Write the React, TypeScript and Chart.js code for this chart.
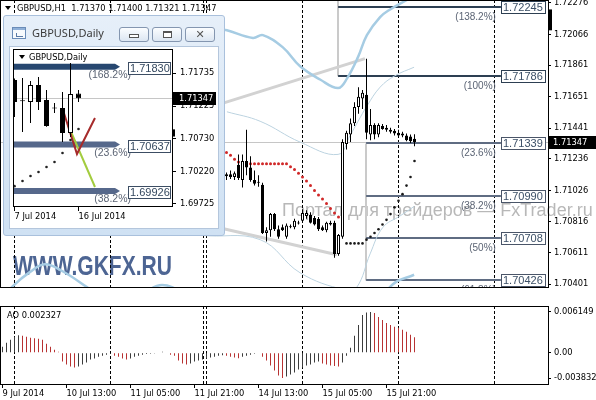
import React, { useEffect, useRef } from 'react';
import { Chart, registerables } from 'chart.js';

Chart.register(...registerables);
Chart.defaults.font.family = 'DejaVu Sans';
Chart.defaults.font.size = 8.3;

// ===== shared H1 time axis (x = bar number, one bar per hour) =====
const xMin = -0.625;
const xMax = 136.375;
const timeTickIndex = [0, 16, 32, 48, 64, 80, 96];
const timeTickLabels = ['9 Jul 2014', '10 Jul 13:00', '11 Jul 05:00', '11 Jul 21:00', '14 Jul 13:00', '15 Jul 05:00', '15 Jul 21:00'];
const daySeparators = [3, 27, 50.25, 51, 75, 99, 123];

// ===== price pane =====
const priceMin = 1.703757;
const priceMax = 1.722949;
const priceTicks = [1.72276, 1.72066, 1.71861, 1.71651, 1.71441, 1.71236, 1.71026, 1.70816, 1.70611, 1.70401];
const chartTitle = 'GBPUSD,H1';
const lastOHLC = [1.7137, 1.714, 1.71321, 1.71347];
const bidPrice = 1.71347;
const axisMarker = [1.72232, 1.72093];

const firstCandle = 56;
const opens = [1.71121, 1.71133, 1.71115, 1.71197, 1.71096, 1.71222, 1.71178, 1.71096, 1.71077, 1.71064, 1.70742, 1.70761, 1.70868, 1.70767, 1.7078, 1.70717, 1.70786, 1.7078, 1.70811, 1.70824, 1.70856, 1.70862, 1.70843, 1.70837, 1.7078, 1.70761, 1.70811, 1.70811, 1.70603, 1.70717, 1.71335, 1.71399, 1.71474, 1.71582, 1.71638, 1.71664, 1.71399, 1.71462, 1.71399, 1.71455, 1.71443, 1.7143, 1.71424, 1.71411, 1.71405, 1.71392, 1.71386, 1.7137];
const highs = [1.71146, 1.71159, 1.71152, 1.71266, 1.71266, 1.7143, 1.71253, 1.71159, 1.71127, 1.71077, 1.7078, 1.70875, 1.70875, 1.70793, 1.70799, 1.70805, 1.70799, 1.70837, 1.70824, 1.709, 1.70894, 1.70881, 1.70856, 1.70849, 1.70793, 1.70818, 1.70824, 1.70824, 1.70736, 1.71367, 1.71424, 1.71506, 1.71613, 1.71714, 1.71695, 1.71904, 1.71569, 1.71474, 1.71474, 1.71468, 1.71462, 1.71443, 1.71436, 1.7143, 1.71417, 1.71405, 1.71399, 1.714];
const lows = [1.71096, 1.71102, 1.71096, 1.71096, 1.71045, 1.71127, 1.71083, 1.71058, 1.71051, 1.70736, 1.70685, 1.70717, 1.70755, 1.70704, 1.70755, 1.70704, 1.70774, 1.70767, 1.70799, 1.70818, 1.70837, 1.70805, 1.70793, 1.70755, 1.70755, 1.70748, 1.70793, 1.70578, 1.70591, 1.70704, 1.71298, 1.71348, 1.71455, 1.71537, 1.71569, 1.71367, 1.71361, 1.71367, 1.7138, 1.7143, 1.71417, 1.71405, 1.71392, 1.71386, 1.7138, 1.71354, 1.71342, 1.71321];
const closes = [1.71133, 1.71115, 1.7114, 1.71108, 1.71222, 1.71178, 1.71096, 1.7107, 1.71083, 1.70742, 1.70761, 1.70868, 1.70767, 1.70717, 1.70761, 1.70793, 1.7078, 1.70824, 1.70805, 1.70875, 1.70875, 1.70811, 1.70799, 1.70767, 1.70761, 1.70811, 1.70799, 1.70603, 1.70729, 1.71348, 1.71411, 1.71474, 1.71582, 1.71651, 1.71676, 1.71411, 1.71462, 1.71399, 1.71462, 1.71436, 1.7143, 1.71417, 1.71405, 1.71392, 1.71392, 1.71361, 1.71354, 1.71347];

const sarDownStart = 56;
const sarDown = [1.71279, 1.7126, 1.71234, 1.71215, 1.71203, 1.71203, 1.71203, 1.71203, 1.71203, 1.71203, 1.71203, 1.71203, 1.71203, 1.71203, 1.71203, 1.71203, 1.71184, 1.71165, 1.7114, 1.71115, 1.71089, 1.71058, 1.71026, 1.70995, 1.70969, 1.70938, 1.70906, 1.70875, 1.70849];
const sarUpStart = 86;
const sarUp = [1.70673, 1.70673, 1.70673, 1.70673, 1.70673, 1.70698, 1.70717, 1.70742, 1.70767, 1.70799, 1.7083, 1.70868, 1.70913, 1.70957, 1.71001, 1.71058, 1.71115, 1.71222];

const bandUpper = [[53.1, 1.72106], [56.1, 1.72093], [62.6, 1.72042], [65.1, 1.72061], [70.1, 1.71979], [74.4, 1.71853], [79.4, 1.71765], [83.9, 1.71708], [86.1, 1.71771], [88.9, 1.71916], [91.1, 1.72061], [94.4, 1.72181], [96.9, 1.72232], [101.1, 1.72295], [102.9, 1.7232]];
const bandLower = [[-0.6, 1.70287], [2.6, 1.70388], [6.9, 1.70483], [10.6, 1.70534], [14.9, 1.70489], [21.1, 1.70382], [26.9, 1.70275], [34.4, 1.70332], [39.9, 1.70395], [45.4, 1.70332], [54.4, 1.70148], [74.4, 1.69991], [89.4, 1.70148], [97.6, 1.70401], [102.9, 1.70464]];
const envUpper = [[56.1, 1.7155], [64.4, 1.71487], [74.4, 1.71348], [83.9, 1.71266], [86.9, 1.71392], [88.9, 1.71487], [91.1, 1.71588], [94.4, 1.71714], [98.1, 1.7179], [102.9, 1.71847]];
const envLower = [[43.6, 1.7078], [49.4, 1.70729], [64.4, 1.70698], [74.4, 1.70477], [85.6, 1.70363], [88.6, 1.70382], [91.9, 1.70603], [95.1, 1.7078], [99.4, 1.70856], [102.9, 1.70919]];
const channelHigh = [[44.4, 1.71518], [90.6, 1.71904]];
const channelLow = [[44.4, 1.70837], [83.6, 1.70597]];

const fibLevels = [1.72245, 1.71786, 1.71339, 1.7099, 1.70708, 1.70426];
const fibNames = ['(138.2%)', '(100%)', '(23.6%)', '(38.2%)', '(50%)', '(61.8%)'];
const fibStart = [83.9, 83.9, 90.9, 90.9, 90.9, 90.9];
const fibEnd = 124.6;
const fibAnchorX = [83.9, 90.9];
const fibAnchorTop = [1.72295, 1.71339];
const fibAnchorBottom = [1.71786, 1.70426];

const watermarkRu = 'Портал для трейдеров — FxTrader.ru';
const watermarkEn = 'WWW.GKFX.RU';

// ===== AO pane =====
const aoMin = -0.004739;
const aoMax = 0.007056;
const aoTicks = [0.006149, 0, -0.003832];
const aoTitle = 'AO 0.002327';
const aoValues = [
  0.0009, 0.0015, 0.00195, 0.0024, 0.00263, 0.00255, 0.0024, 0.00225, 0.00218, 0.0021,
  0.00195, 0.00135, 0.0009, 0.00045, 0.00015, -0.00135, -0.0018, -0.0021, -0.00225, -0.0021,
  -0.0018, -0.0015, -0.00105, -0.0009, -0.0006, -0.00045, -0.0003, -0.00015, -0.00045, -0.0006,
  -0.0009, -0.00105, -0.0009, -0.0006, -0.00045, -0.0003, -0.00022, -0.00015, -0.00005, 0.00008,
  0.00015, 0.00005, -0.0003, -0.00045, -0.0012, -0.00165, -0.0018, -0.00165, -0.00135, -0.0012,
  -0.00105, -0.0009, -0.00075, -0.0006, -0.00045, -0.00038, -0.00045, -0.0006, -0.00075, -0.00083,
  -0.0006, -0.00045, -0.0003, -0.00015, -0.00008, -0.0006, -0.0012, -0.00195, -0.0027, -0.00345,
  -0.003832, -0.0036, -0.0033, -0.003, -0.00255, -0.00225, -0.00195, -0.0018, -0.0015, -0.00135,
  -0.00165, -0.0018, -0.00195, -0.00203, -0.0021, -0.0015, -0.00045, 0.00075, 0.00255, 0.0042,
  0.0057, 0.00608, 0.006149, 0.006, 0.0054, 0.00495, 0.0045, 0.0042, 0.0039, 0.00375,
  0.00345, 0.00315, 0.0027, 0.002327,
];

// ===== inset daily chart =====
const dXMin = -0.1875;
const dXMax = 19.8125;
const dPriceMin = 1.696788;
const dPriceMax = 1.721033;
const dPriceTicks = [1.71735, 1.71225, 1.7073, 1.7022, 1.69725];
const dTimeTickIndex = [0, 8];
const dTimeTickLabels = ['7 Jul 2014', '16 Jul 2014'];
const dTitle = 'GBPUSD,Daily';
const dOpens = [1.71628, 1.71305, 1.7129, 1.71551, 1.71321, 1.71198, 1.71198, 1.70814, 1.7142];
const dHighs = [1.7165, 1.71658, 1.71612, 1.71674, 1.71474, 1.71275, 1.71443, 1.71888, 1.71474];
const dLows = [1.7106, 1.7083, 1.70968, 1.71167, 1.7091, 1.71121, 1.70676, 1.70753, 1.7129];
const dCloses = [1.7129, 1.713, 1.71551, 1.7129, 1.70922, 1.7119, 1.70814, 1.71413, 1.71347];
const dSar = [1.69999, 1.70078, 1.70155, 1.70216, 1.70293, 1.70369, 1.70507, 1.70707, 1.70876];
const dFibLevels = [1.7183, 1.70637, 1.69926];
const dFibNames = ['(168.2%)', '(23.6%)', '(38.2%)'];
const dFibEnd = 13.19;
const dRedLine = [[6.06, 1.71167], [7.81, 1.70492], [10.06, 1.71045]];
const dGreenLine = [[6.69, 1.70937], [10.06, 1.69986]];
const dAxisMarker = [1.7087, 1.7076];

// ===== helpers =====
const AX = '"DejaVu Sans"';
const crisp = (v: number) => Math.floor(v) + 0.5;

function candleDatasets(start: number, o: number[], h: number[], l: number[], c: number[], bodyW: number) {
  return [
    {
      type: 'bar', order: 0, grouped: false, barThickness: bodyW, minBarLength: 1, borderWidth: 1,
      borderSkipped: false, borderColor: '#000', inflateAmount: 0,
      backgroundColor: o.map((v, j) => (c[j] >= v ? '#ffffff' : '#000000')),
      data: o.map((v, j) => ({ x: start + j, y: [Math.min(v, c[j]), Math.max(v, c[j])] })),
    },
    {
      type: 'bar', order: 1, grouped: false, barThickness: 1, borderWidth: 0, inflateAmount: 0,
      backgroundColor: '#000',
      data: o.map((_, j) => ({ x: start + j, y: [l[j], h[j]] })),
    },
  ];
}
function curve(points: number[][], color: string, width: number, order: number, tension = 0.4) {
  return {
    type: 'line', order, data: points.map(([x, y]) => ({ x, y })), borderColor: color,
    borderWidth: width, pointRadius: 0, tension, fill: false, clip: 0,
  };
}
function dots(start: number, values: number[], color: string, r: number) {
  return {
    type: 'line', order: 2, showLine: false, data: values.map((y, j) => ({ x: start + j, y })),
    pointRadius: r, pointBackgroundColor: color, pointBorderWidth: 0, borderColor: color,
  };
}
function boxLabel(ctx: any, text: string, left: number, cy: number, w: number, h: number, border: string, color: string, font: string) {
  const top = Math.round(cy - h / 2);
  ctx.fillStyle = '#fff';
  ctx.fillRect(Math.round(left), top, w, h);
  ctx.strokeStyle = border;
  ctx.lineWidth = 1;
  ctx.strokeRect(Math.round(left) + 0.5, top + 0.5, w, h);
  ctx.fillStyle = color;
  ctx.font = font;
  ctx.textAlign = 'left';
  ctx.textBaseline = 'middle';
  ctx.fillText(text, Math.round(left) + 2, top + h / 2 + 1);
}
function dashedSeparators(ctx: any, a: any, x: any) {
  ctx.save();
  ctx.strokeStyle = '#000';
  ctx.lineWidth = 1;
  ctx.setLineDash([3, 2]);
  daySeparators.forEach((d) => {
    const px = crisp(x.getPixelForValue(d));
    ctx.beginPath();
    ctx.moveTo(px, a.top);
    ctx.lineTo(px, a.bottom);
    ctx.stroke();
  });
  ctx.restore();
}
function yAxis(min: number, max: number, ticks: number[], fmt: (v: number) => string, width: number, pad: number) {
  return {
    type: 'linear', position: 'right', min, max, bounds: 'data', beginAtZero: false,
    afterBuildTicks: (s: any) => { s.ticks = ticks.map((v) => ({ value: v })); },
    afterFit: (s: any) => { s.width = width; s.paddingTop = 0; s.paddingBottom = 0; },
    ticks: { callback: (v: number) => fmt(v), color: '#000', padding: pad, autoSkip: false, font: { family: 'DejaVu Sans', size: 8.3 } },
    grid: { drawOnChartArea: false, drawTicks: true, tickLength: 3, color: '#000' },
    border: { display: false },
  };
}
function xAxis(min: number, max: number, tickIdx: number[], labels: string[], height: number, show: boolean) {
  return {
    type: 'linear', min, max, offset: false, display: show, bounds: 'data',
    afterBuildTicks: (s: any) => { s.ticks = tickIdx.map((v) => ({ value: v })); },
    afterFit: (s: any) => { s.height = height; s.paddingLeft = 0; s.paddingRight = 0; },
    ticks: {
      align: 'start', maxRotation: 0, autoSkip: false, padding: 1, color: '#000',
      font: { family: 'DejaVu Sans', size: 8.3 },
      callback: (v: number) => { const k = tickIdx.indexOf(v); return k < 0 ? '' : labels[k]; },
    },
    grid: { drawOnChartArea: false, drawTicks: true, tickLength: 4, color: '#000', offset: false },
    border: { display: false },
  };
}
const commonOpts = {
  responsive: false, animation: false, devicePixelRatio: 1, events: [],
  plugins: { legend: { display: false }, tooltip: { enabled: false } },
};

// ===== main pane decorations =====
const mainDecor = {
  id: 'mainDecor',
  beforeDatasetsDraw(chart: any) {
    const { ctx, chartArea: a, scales: { x, y } } = chart;
    ctx.save();
    ctx.fillStyle = '#b8b8b8';
    ctx.font = '18px "Liberation Sans"';
    ctx.textAlign = 'left';
    ctx.textBaseline = 'middle';
    ctx.fillText(watermarkRu, 282, 211);
    ctx.fillStyle = '#4d6593';
    ctx.font = 'bold 28px "Liberation Sans"';
    ctx.textBaseline = 'alphabetic';
    ctx.fillText(watermarkEn, 13, 275, 159);

    ctx.beginPath();
    ctx.rect(a.left, a.top, a.right - a.left, a.bottom - a.top);
    ctx.clip();
    dashedSeparators(ctx, a, x);
    const by = crisp(y.getPixelForValue(bidPrice));
    ctx.strokeStyle = '#c6c6c6';
    ctx.lineWidth = 1;
    ctx.beginPath(); ctx.moveTo(a.left, by); ctx.lineTo(a.right, by); ctx.stroke();
    ctx.strokeStyle = '#cacaca';
    ctx.lineWidth = 2;
    fibAnchorX.forEach((fx, k) => {
      const px = Math.round(x.getPixelForValue(fx));
      ctx.beginPath();
      ctx.moveTo(px, y.getPixelForValue(fibAnchorTop[k]));
      ctx.lineTo(px, y.getPixelForValue(fibAnchorBottom[k]));
      ctx.stroke();
    });
    const xe = x.getPixelForValue(fibEnd);
    fibLevels.forEach((lv, k) => {
      const py = Math.round(y.getPixelForValue(lv));
      ctx.strokeStyle = k < 2 ? '#2d3f52' : '#5f6c82';
      ctx.lineWidth = 2;
      ctx.beginPath();
      ctx.moveTo(x.getPixelForValue(fibStart[k]), py);
      ctx.lineTo(xe, py);
      ctx.stroke();
    });
    ctx.restore();
  },
  afterDatasetsDraw(chart: any) {
    const { ctx, chartArea: a, scales: { x, y } } = chart;
    ctx.save();
    ctx.beginPath();
    ctx.rect(a.left, a.top, a.right - a.left, a.bottom - a.top);
    ctx.clip();
    const xe = x.getPixelForValue(fibEnd);
    fibLevels.forEach((lv, k) => {
      const py = Math.round(y.getPixelForValue(lv));
      ctx.fillStyle = '#5b6474';
      ctx.font = '10px "Liberation Sans"';
      ctx.textAlign = 'right';
      ctx.textBaseline = 'middle';
      ctx.fillText(fibNames[k], xe - 5, py + 10);
      boxLabel(ctx, lv.toFixed(5), xe, py, 44, 12, k < 2 ? '#2d3f52' : '#4a5568', '#3b4f66', '11px "Liberation Sans"');
    });
    ctx.restore();

    ctx.save();
    ctx.strokeStyle = '#000';
    ctx.lineWidth = 1;
    ctx.strokeRect(0.5, 0.5, Math.round(a.right), Math.round(a.bottom) - 1);
    // current price flag
    const by = y.getPixelForValue(bidPrice);
    ctx.fillStyle = '#000';
    ctx.fillRect(Math.round(a.right) + 1, Math.round(by) - 6, 48, 13);
    ctx.fillStyle = '#fff';
    ctx.font = `8.3px ${AX}`;
    ctx.textAlign = 'left';
    ctx.textBaseline = 'middle';
    ctx.fillText(bidPrice.toFixed(5), Math.round(a.right) + 5, Math.round(by) + 0.5);
    // axis marker
    ctx.fillStyle = '#000';
    const m1 = y.getPixelForValue(axisMarker[0]);
    const m2 = y.getPixelForValue(axisMarker[1]);
    ctx.fillRect(Math.round(a.right) + 1, m1, 3, m2 - m1);
    // header
    ctx.beginPath();
    ctx.moveTo(5, 6); ctx.lineTo(11, 6); ctx.lineTo(8, 10); ctx.closePath();
    ctx.fill();
    ctx.font = `8.3px ${AX}`;
    ctx.fillText(`${chartTitle}  ${lastOHLC.map((v) => v.toFixed(5)).join(' ')}`, 17, 8.5);
    ctx.restore();
  },
};

// ===== AO pane decorations =====
const aoDecor = {
  id: 'aoDecor',
  beforeDatasetsDraw(chart: any) {
    const { ctx, chartArea: a, scales: { x } } = chart;
    dashedSeparators(ctx, a, x);
  },
  afterDatasetsDraw(chart: any) {
    const { ctx, chartArea: a } = chart;
    ctx.save();
    ctx.strokeStyle = '#000';
    ctx.lineWidth = 1;
    ctx.strokeRect(0.5, Math.round(a.top) + 0.5, Math.round(a.right), Math.round(a.bottom - a.top));
    ctx.fillStyle = '#000';
    ctx.font = `8.3px ${AX}`;
    ctx.textAlign = 'left';
    ctx.textBaseline = 'middle';
    ctx.fillText(aoTitle, 7, a.top + 10);
    ctx.restore();
  },
};

// ===== inset decorations =====
const insetDecor = {
  id: 'insetDecor',
  beforeDatasetsDraw(chart: any) {
    const { ctx, chartArea: a, scales: { x, y } } = chart;
    ctx.save();
    ctx.beginPath();
    ctx.rect(a.left, a.top, a.right - a.left, a.bottom - a.top);
    ctx.clip();
    const by = crisp(y.getPixelForValue(bidPrice));
    ctx.strokeStyle = '#c6c6c6';
    ctx.lineWidth = 1;
    ctx.beginPath(); ctx.moveTo(a.left, by); ctx.lineTo(a.right, by); ctx.stroke();
    const xe = x.getPixelForValue(dFibEnd);
    dFibLevels.forEach((lv, k) => {
      const py = y.getPixelForValue(lv);
      const col = k === 0 ? '#274770' : '#56688b';
      ctx.strokeStyle = col;
      ctx.fillStyle = col;
      ctx.lineWidth = 6;
      ctx.beginPath(); ctx.moveTo(a.left, py); ctx.lineTo(xe - 5, py); ctx.stroke();
      ctx.beginPath(); ctx.moveTo(xe - 5, py - 3); ctx.lineTo(xe, py); ctx.lineTo(xe - 5, py + 3); ctx.closePath(); ctx.fill();
    });
    ctx.restore();
  },
  afterDatasetsDraw(chart: any) {
    const { ctx, chartArea: a, scales: { x, y } } = chart;
    ctx.save();
    const xe = x.getPixelForValue(dFibEnd);
    dFibLevels.forEach((lv, k) => {
      const py = Math.round(y.getPixelForValue(lv));
      ctx.fillStyle = '#5b6474';
      ctx.font = '10.5px "Liberation Sans"';
      ctx.textAlign = 'right';
      ctx.textBaseline = 'middle';
      ctx.fillText(dFibNames[k], xe + 11, py + 8);
      boxLabel(ctx, lv.toFixed(5), xe + 8, py + 1, 42, 12, '#3c4d63', '#34485f', '11px "Liberation Sans"');
    });
    ctx.strokeStyle = '#000';
    ctx.lineWidth = 1;
    ctx.strokeRect(Math.round(a.left) + 0.5, Math.round(a.top) + 0.5, Math.round(a.right - a.left) - 1, Math.round(a.bottom - a.top) - 1);
    // header
    ctx.fillStyle = '#000';
    ctx.beginPath();
    ctx.moveTo(a.left + 6, a.top + 6); ctx.lineTo(a.left + 12, a.top + 6); ctx.lineTo(a.left + 9, a.top + 10); ctx.closePath();
    ctx.fill();
    ctx.font = `8.3px ${AX}`;
    ctx.textAlign = 'left';
    ctx.textBaseline = 'middle';
    ctx.fillText(dTitle, a.left + 16, a.top + 8.5);
    // price flag
    const by = y.getPixelForValue(bidPrice);
    ctx.fillRect(Math.round(a.right), Math.round(by) - 6, 43, 13);
    ctx.fillStyle = '#fff';
    ctx.fillText(bidPrice.toFixed(5), Math.round(a.right) + 6, Math.round(by) + 0.5);
    ctx.fillStyle = '#000';
    const m1 = y.getPixelForValue(dAxisMarker[0]);
    const m2 = y.getPixelForValue(dAxisMarker[1]);
    ctx.fillRect(Math.round(a.right) - 1, m1, 3, m2 - m1);
    ctx.restore();
  },
};

function mainConfig(): any {
  return {
    type: 'bar',
    data: {
      datasets: [
        ...candleDatasets(firstCandle, opens, highs, lows, closes, 3),
        dots(sarDownStart, sarDown, '#d02828', 1.5),
        dots(sarUpStart, sarUp, '#1a1a1a', 1.3),
        curve(bandUpper, '#a6cce3', 2.5, 5),
        curve(bandLower, '#a6cce3', 2.5, 5),
        curve(envUpper, '#bcd3e0', 1, 6),
        curve(envLower, '#bcd3e0', 1, 6),
        curve(channelHigh, '#d2d2d2', 3, 7, 0),
        curve(channelLow, '#d2d2d2', 3, 7, 0),
      ],
    },
    options: {
      ...commonOpts,
      layout: { padding: 0, autoPadding: false },
      scales: {
        x: xAxis(xMin, xMax, timeTickIndex, timeTickLabels, 16, false),
        y: yAxis(priceMin, priceMax, priceTicks, (v) => v.toFixed(5), 48, 3),
      },
    },
    plugins: [mainDecor],
  };
}

function aoConfig(): any {
  return {
    type: 'bar',
    data: {
      datasets: [{
        type: 'bar', grouped: false, barThickness: 1, borderWidth: 0, inflateAmount: 0,
        data: aoValues.map((v, i) => ({ x: i, y: v })),
        backgroundColor: aoValues.map((v, i) => (i > 0 && v < aoValues[i - 1] ? '#b83232' : '#3c3c3c')),
      }],
    },
    options: {
      ...commonOpts,
      layout: { padding: { top: 2, left: 0, right: 0, bottom: 0 }, autoPadding: false },
      scales: {
        x: xAxis(xMin, xMax, timeTickIndex, timeTickLabels, 16, true),
        y: yAxis(aoMin, aoMax, aoTicks, (v) => (v === 0 ? '0.00' : v.toFixed(6)), 48, 3),
      },
    },
    plugins: [aoDecor],
  };
}

function insetConfig(): any {
  return {
    type: 'bar',
    data: {
      datasets: [
        ...candleDatasets(0, dOpens, dHighs, dLows, dCloses, 5),
        dots(0, dSar, '#222', 1.3),
        curve(dRedLine, '#a62b2b', 2, 3, 0),
        curve(dGreenLine, '#a3cc3e', 2, 3, 0),
      ],
    },
    options: {
      ...commonOpts,
      layout: { padding: { top: 2, left: 3, right: 0, bottom: 0 }, autoPadding: false },
      scales: {
        x: xAxis(dXMin, dXMax, dTimeTickIndex, dTimeTickLabels, 21, true),
        y: yAxis(dPriceMin, dPriceMax, dPriceTicks, (v) => v.toFixed(5), 45, 4),
      },
    },
    plugins: [insetDecor],
  };
}

function WinButton({ left, children }: any) {
  return (
    <div style={{ position: 'absolute', left, top: 11, width: 30, height: 15, boxSizing: 'border-box', border: '1px solid #8496b0', borderRadius: 3, background: 'linear-gradient(#fbfdff, #dce6f2)' }}>
      {children}
    </div>
  );
}

function InsetWindow({ canvasRef }: any) {
  return (
    <div style={{ position: 'absolute', left: 3, top: 15, width: 222, height: 221, boxSizing: 'border-box', border: '1px solid #a9c0dc', borderRadius: 3, background: 'linear-gradient(#e6eff9, #cfe1f3)' }}>
      <div style={{ position: 'absolute', left: 8, top: 11, width: 14, height: 12, boxSizing: 'border-box', border: '1px solid #6a8cb8', background: '#f7fafd' }}>
        <div style={{ position: 'absolute', left: 0, top: 0, width: 12, height: 2, background: '#8fb0d8' }} />
        <div style={{ position: 'absolute', left: 3, top: 5, width: 6, height: 3, borderBottom: '1px solid #5a7aa6', borderLeft: '1px solid #5a7aa6' }} />
      </div>
      <div style={{ position: 'absolute', left: 28, top: 10, font: '11px "Noto Sans"', lineHeight: '14px', color: '#3a3a3a', whiteSpace: 'nowrap' }}>{dTitle}</div>
      <WinButton left={115}>
        <div style={{ position: 'absolute', left: 9, top: 6, width: 10, height: 4, boxSizing: 'border-box', border: '1px solid #555', background: '#fff' }} />
      </WinButton>
      <WinButton left={148}>
        <div style={{ position: 'absolute', left: 10, top: 3, width: 9, height: 7, boxSizing: 'border-box', border: '1px solid #555', borderTopWidth: 2, background: '#fff' }} />
      </WinButton>
      <WinButton left={181}>
        <div style={{ position: 'absolute', left: 0, top: 0, width: 28, height: 13, lineHeight: '13px', textAlign: 'center', font: 'bold 11px "DejaVu Sans"', color: '#555' }}>✕</div>
      </WinButton>
      <div style={{ position: 'absolute', left: 6, top: 31, width: 208, height: 181, background: '#fff', boxShadow: '0 0 0 1px #b4c6dc' }}>
        <canvas ref={canvasRef} width={208} height={181} style={{ position: 'absolute', left: 0, top: 0 }} />
      </div>
    </div>
  );
}

export default function App() {
  const mainRef = useRef<HTMLCanvasElement>(null);
  const aoRef = useRef<HTMLCanvasElement>(null);
  const insetRef = useRef<HTMLCanvasElement>(null);
  useEffect(() => {
    const charts = [
      new Chart(mainRef.current as any, mainConfig()),
      new Chart(aoRef.current as any, aoConfig()),
      new Chart(insetRef.current as any, insetConfig()),
    ];
    return () => charts.forEach((c) => c.destroy());
  }, []);
  return (
    <div style={{ position: 'absolute', left: 0, top: 0, width: 596, height: 400, overflow: 'hidden', background: '#fff' }}>
      <canvas ref={mainRef} width={596} height={304} style={{ position: 'absolute', left: 0, top: 0 }} />
      <canvas ref={aoRef} width={596} height={96} style={{ position: 'absolute', left: 0, top: 304 }} />
      <InsetWindow canvasRef={insetRef} />
    </div>
  );
}
